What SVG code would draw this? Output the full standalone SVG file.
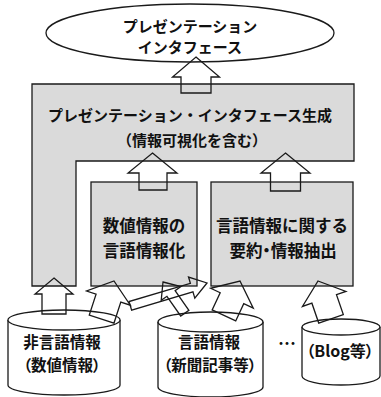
<svg xmlns="http://www.w3.org/2000/svg" width="381" height="397" viewBox="0 0 381 397">
<style>
.ln{fill:none;stroke:#1a1a1a;stroke-width:1.3;stroke-linejoin:miter}
.gray{fill:#dadada;stroke:#1a1a1a;stroke-width:1.3}
.wh{fill:#ffffff;stroke:#1a1a1a;stroke-width:1.3}
.t{font-family:"Noto Sans CJK JP","Noto Sans CJK SC",sans-serif;font-weight:bold;fill:#111;text-anchor:middle;dominant-baseline:central}
.p{font-feature-settings:"palt"}
</style>
<rect width="381" height="397" fill="#ffffff"/>
<g id="presentation-interface">
<ellipse class="wh" cx="190" cy="33" rx="144" ry="29"/>
<text class="t" x="190" y="25" font-size="15">プレゼンテーション</text>
<text class="t" x="190" y="46" font-size="15">インタフェース</text>
</g>
<g id="generation">
<path class="gray" d="M32,84 H354 V161 H76 V286 H32 Z"/>
<text class="t" x="190" y="114" font-size="15">プレゼンテーション・インタフェース生成</text>
<text class="t" x="192" y="139" font-size="15">（情報可視化を含む）</text>
</g>
<g id="verbalization">
<rect class="gray" x="91" y="182" width="106" height="104"/>
<text class="t" x="144" y="225" font-size="16.5">数値情報の</text>
<text class="t" x="144" y="250" font-size="16.5">言語情報化</text>
</g>
<g id="summarization">
<rect class="gray" x="211" y="182" width="142" height="104"/>
<text class="t" x="282" y="225" font-size="16.5">言語情報に関する</text>
<text class="t p" x="283" y="250" font-size="16.5">要約・情報抽出</text>
</g>
<g id="nonverbal-db">
<path class="wh" d="M8,320 V385 A56,10 0 0 0 120,385 V320"/>
<ellipse class="wh" cx="64" cy="320" rx="56" ry="10"/>
<text class="t" x="62" y="341" font-size="15.5">非言語情報</text>
<text class="t p" x="62" y="364" font-size="15.5">（数値情報）</text>
</g>
<g id="verbal-db">
<path class="wh" d="M158,322 V387 A52.5,10 0 0 0 263,387 V322"/>
<ellipse class="wh" cx="210.5" cy="322" rx="52.5" ry="10"/>
<text class="t" x="209" y="341" font-size="15.5">言語情報</text>
<text class="t p" x="210" y="364" font-size="15.5">（新聞記事等）</text>
</g>
<g id="blog-db">
<path class="wh" d="M302,327 V376 A39,9 0 0 0 380,376 V327"/>
<ellipse class="wh" cx="341" cy="327" rx="39" ry="8"/>
<text class="t p" x="340" y="350" font-size="16">（Blog等）</text>
</g>
<g id="ellipsis">
<text class="t" x="287" y="342" font-size="18">…</text>
</g>
<g id="connectors">
<path class="ln" d="M196,57 L219.5,77 L211,77 L211,93 L181,93 L181,77 L172.5,77 Z"/>
<path class="ln" d="M152.5,153 L177,173 L167,173 L167,190 L139,190 L139,173 L128,173 Z"/>
<path class="ln" d="M285.5,153 L310,173 L300.5,173 L300.5,191 L270.5,191 L270.5,173 L261,173 Z"/>
<path class="ln" d="M54,278 L73,294 L66,294 L66,314 L42,314 L42,294 L35,294 Z"/>
<path class="ln" transform="translate(114,281) rotate(18)" d="M0,0 L23,18 L13,18 L13,40 L-13,40 L-13,18 L-23,18 Z"/>
<path class="ln" transform="translate(207,283) rotate(73.4)" d="M0,0 L11,16 L4.5,16 L4.5,80 L-4.5,80 L-4.5,16 L-11,16 Z"/>
<path class="ln" transform="translate(163,282) rotate(-35)" d="M0,0 L12,14 L5,14 L5,38 L-5,38 L-5,14 L-12,14 Z"/>
<path class="ln" transform="translate(240,281) rotate(25)" d="M0,0 L23.5,19 L13,19 L13,38 L-13,38 L-13,19 L-23.5,19 Z"/>
<path class="ln" transform="translate(318,281) rotate(-19)" d="M0,0 L23,19 L13,19 L13,40 L-13,40 L-13,19 L-23,19 Z"/>
</g>
</svg>
